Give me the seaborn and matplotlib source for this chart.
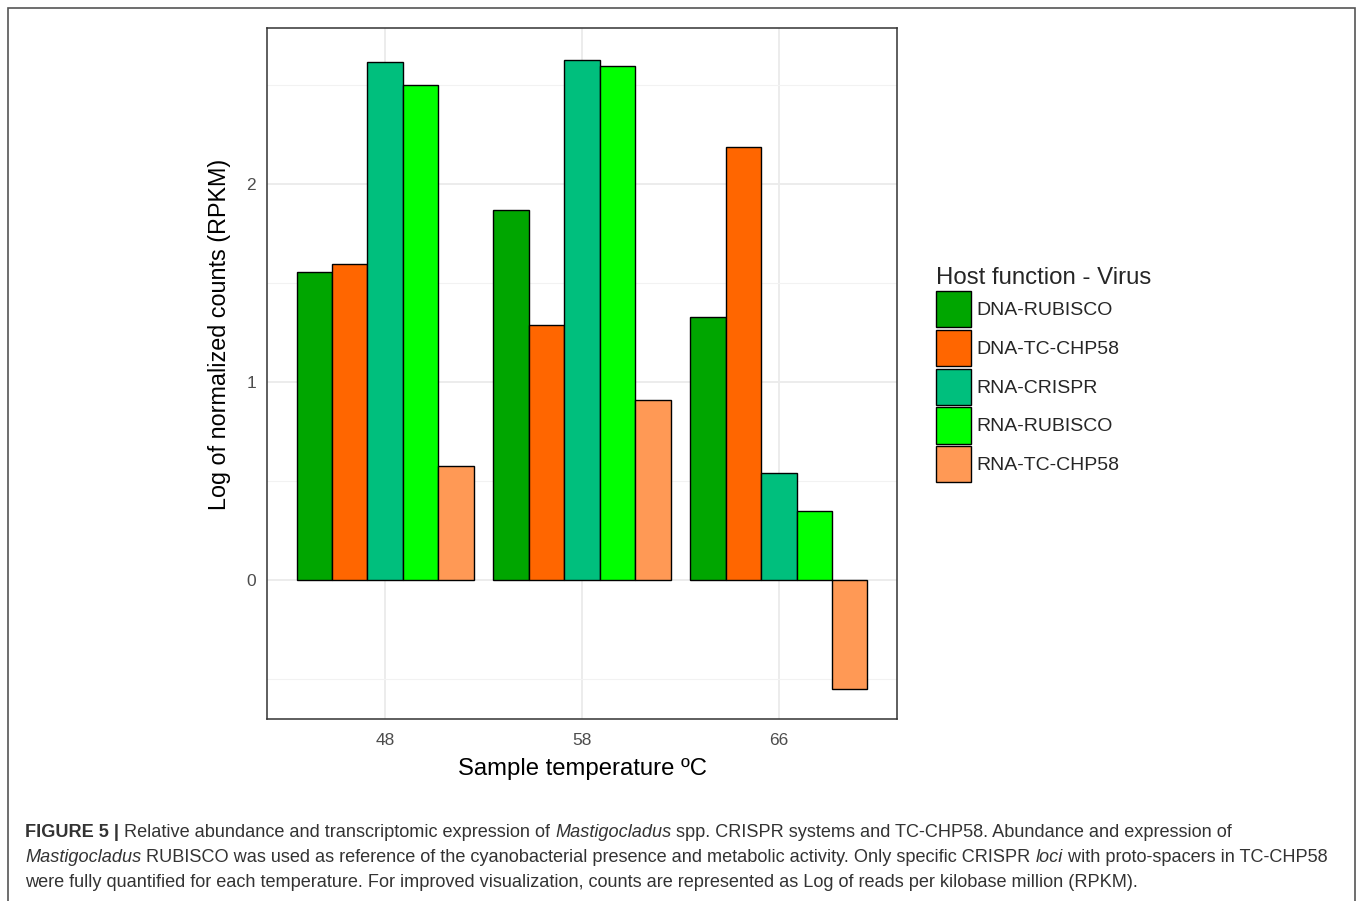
import matplotlib
matplotlib.use("Agg")
import matplotlib.pyplot as plt
import matplotlib.patches as mpatches
import seaborn as sns
import pandas as pd

# values (log RPKM)
temperatures = ["48", "58", "66"]
groups = ["DNA-RUBISCO", "DNA-TC-CHP58", "RNA-CRISPR", "RNA-RUBISCO", "RNA-TC-CHP58"]
dna_rubisco = [1.56, 1.87, 1.33]
dna_tc_chp58 = [1.60, 1.29, 2.19]
rna_crispr = [2.62, 2.63, 0.54]
rna_rubisco = [2.50, 2.60, 0.35]
rna_tc_chp58 = [0.58, 0.91, -0.55]
colors = ["#00A600", "#FF6600", "#00BF7D", "#00FF00", "#FF9955"]

series = [dna_rubisco, dna_tc_chp58, rna_crispr, rna_rubisco, rna_tc_chp58]
rows = []
for g, vals in zip(groups, series):
    for t, v in zip(temperatures, vals):
        rows.append({"temp": t, "group": g, "value": v})
df = pd.DataFrame(rows)

sns.set_style("white")
plt.rcParams["font.family"] = ["Liberation Sans", "DejaVu Sans"]

fig = plt.figure(figsize=(13.6, 9.01), dpi=100)
ax = fig.add_axes([267 / 1360, 1 - 719 / 901, 630 / 1360, 691 / 901])

sns.barplot(data=df, x="temp", y="value", hue="group", order=temperatures,
            hue_order=groups, palette=colors, saturation=1, width=0.9, gap=0,
            edgecolor="black", linewidth=1, errorbar=None, legend=False, ax=ax)

ax.set_xlim(-0.6, 2.6)
ax.set_ylim(-0.7, 2.79)
ax.set_yticks([0, 1, 2])
ax.set_yticks([-0.5, 0.5, 1.5, 2.5], minor=True)
ax.grid(True, which="major", color="#EBEBEB", linewidth=1.3)
ax.grid(True, which="minor", axis="y", color="#F2F2F2", linewidth=0.8)
ax.set_axisbelow(True)
for s in ax.spines.values():
    s.set_visible(True)
    s.set_color("#333333")
    s.set_linewidth(1.1)
ax.tick_params(axis="both", which="major", length=4, width=1, color="#333333",
               labelcolor="#4D4D4D", labelsize=12.5, pad=6)
ax.tick_params(axis="y", which="major", pad=4)
ax.tick_params(axis="both", which="minor", length=0)

ax.set_xlabel("Sample temperature ºC", fontsize=17.2, color="black", labelpad=7)
ax.set_ylabel("Log of normalized counts (RPKM)", fontsize=16.8, color="black")
ax.yaxis.set_label_coords(-0.057, 0.557)

handles = [mpatches.Patch(facecolor=c, edgecolor="black", linewidth=1, label=g)
           for g, c in zip(groups, colors)]
leg = fig.legend(handles=handles, title="Host function - Virus",
                 loc="upper left", bbox_to_anchor=(928 / 1360, 1 - 259 / 901),
                 frameon=False, fontsize=14, title_fontsize=17.3,
                 handlelength=1.81, handleheight=2.5, labelspacing=0.12,
                 handletextpad=0.3, borderaxespad=0)
leg._legend_box.align = "left"

# outer frame of the figure panel
fig.patches.append(mpatches.Rectangle((8 / 1360, -0.05), 1347 / 1360, 1.05 - 8 / 901,
                                      transform=fig.transFigure, fill=False,
                                      edgecolor="#555555", linewidth=1.2))

# caption with mixed bold / italic runs
caption = [
    [("FIGURE 5 |", "bold", "normal"),
     (" Relative abundance and transcriptomic expression of ", "normal", "normal"),
     ("Mastigocladus", "normal", "italic"),
     (" spp. CRISPR systems and TC-CHP58. Abundance and expression of", "normal", "normal")],
    [("Mastigocladus", "normal", "italic"),
     (" RUBISCO was used as reference of the cyanobacterial presence and metabolic activity. Only specific CRISPR ", "normal", "normal"),
     ("loci", "normal", "italic"),
     (" with proto-spacers in TC-CHP58", "normal", "normal")],
    [("were fully quantified for each temperature. For improved visualization, counts are represented as Log of reads per kilobase million (RPKM).", "normal", "normal")],
]
renderer = fig.canvas.get_renderer()
line_y = [837, 862, 887]
for runs, py in zip(caption, line_y):
    px = 25
    for txt, weight, style in runs:
        t = fig.text(px / 1360, 1 - py / 901, txt, fontsize=13.1, fontweight=weight,
                     fontstyle=style, color="#333333", ha="left", va="baseline")
        bb = t.get_window_extent(renderer=renderer)
        px += bb.width

fig.savefig("out.png", dpi=100)
